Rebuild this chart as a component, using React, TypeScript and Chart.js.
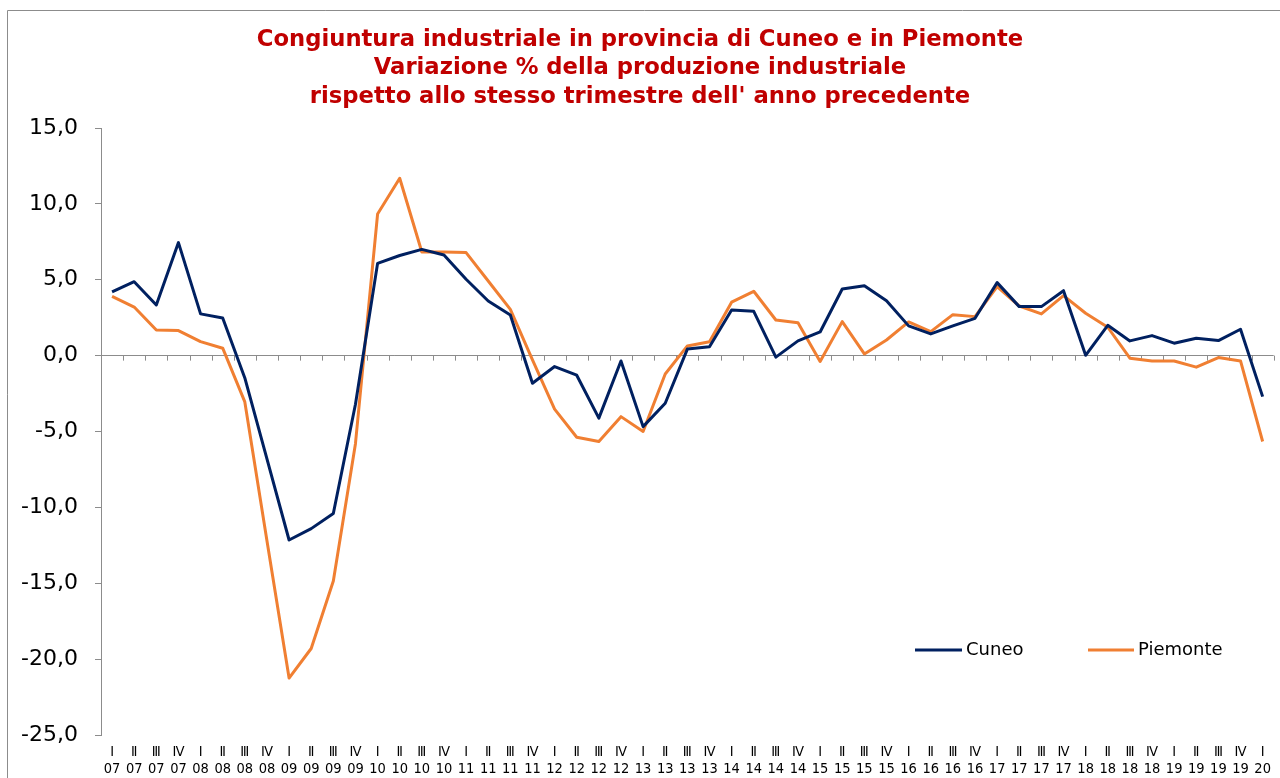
import React, { useEffect, useRef } from "react";
import { Chart, registerables } from "chart.js";

Chart.register(...registerables);

const quarterLabels = ["Ⅰ", "Ⅱ", "Ⅲ", "Ⅳ"];
const yearLabels = ["07", "08", "09", "10", "11", "12", "13", "14", "15", "16", "17", "18", "19", "20"];
const pointCount = 53;

const cuneo = [
  4.2, 4.87, 3.34, 7.45, 2.75, 2.48, -1.47, -6.8, -12.15, -11.4, -10.4, -3.2, 6.08, 6.6, 7.0, 6.63,
  5.03, 3.6, 2.68, -1.82, -0.72, -1.29, -4.12, -0.35, -4.68, -3.14, 0.43, 0.59, 3.01, 2.92, -0.1, 0.97,
  1.56, 4.39, 4.61, 3.62, 1.96, 1.43, 1.96, 2.46, 4.81, 3.23, 3.23, 4.28, 0.02, 2.0, 0.97, 1.32,
  0.82, 1.15, 0.99, 1.74, -2.7,
];

const piemonte = [
  3.9, 3.2, 1.69, 1.65, 0.92, 0.49, -3.05, -12.2, -21.25, -19.3, -14.85, -5.8, 9.33, 11.69, 6.83, 6.83,
  6.79, 4.92, 3.05, -0.28, -3.53, -5.38, -5.66, -4.02, -5.0, -1.21, 0.64, 0.92, 3.52, 4.24, 2.35, 2.17,
  -0.39, 2.24, 0.11, 1.03, 2.22, 1.58, 2.7, 2.57, 4.55, 3.27, 2.75, 3.95, 2.79, 1.87, -0.17, -0.35,
  -0.35, -0.76, -0.13, -0.35, -5.66,
];

const titleLines = [
  "Congiuntura industriale in provincia di Cuneo e in Piemonte",
  "Variazione % della produzione industriale",
  "rispetto allo stesso trimestre dell' anno precedente",
];

const seriesNames = ["Cuneo", "Piemonte"];
const seriesColors = ["#002060", "#F07F32"];

const categories: string[][] = [];
for (let i = 0; i < pointCount; i++) {
  categories.push([quarterLabels[i % 4], yearLabels[Math.floor(i / 4)]]);
}

const FONT = "'DejaVu Sans', Verdana, sans-serif";
const COND = "'DejaVu Sans Condensed', 'DejaVu Sans', sans-serif";

const decorPlugin = {
  id: "decor",
  beforeDatasetsDraw(chart: any) {
    const ctx = chart.ctx;
    const x = chart.scales.x;
    const y = chart.scales.y;
    const y0 = y.getPixelForValue(0);
    ctx.save();
    ctx.strokeStyle = "#8c8c8c";
    ctx.lineWidth = 1;
    const w = (x.right - x.left) / pointCount;
    ctx.beginPath();
    for (let i = 1; i <= pointCount; i++) {
      const px = Math.round(x.left + i * w) + 0.5;
      ctx.moveTo(px, y0);
      ctx.lineTo(px, y0 + 5);
    }
    ctx.stroke();
    ctx.restore();
  },
  afterDraw(chart: any) {
    const ctx = chart.ctx;
    ctx.save();
    // frame
    ctx.strokeStyle = "#8c8c8c";
    ctx.lineWidth = 1;
    ctx.beginPath();
    ctx.moveTo(7.5, 780);
    ctx.lineTo(7.5, 10.5);
    ctx.lineTo(1282, 10.5);
    ctx.stroke();
    // title
    ctx.fillStyle = "#C00000";
    ctx.font = "bold 22.7px " + FONT;
    ctx.textAlign = "center";
    ctx.textBaseline = "middle";
    titleLines.forEach((t, i) => ctx.fillText(t, 640, 40 + i * 28.5));
    // legend
    const items = [
      { x0: 915, x1: 962, tx: 966 },
      { x0: 1088, x1: 1134, tx: 1138 },
    ];
    ctx.font = "18px " + FONT;
    ctx.textAlign = "left";
    items.forEach((it, i) => {
      ctx.strokeStyle = seriesColors[i];
      ctx.lineWidth = 3;
      ctx.beginPath();
      ctx.moveTo(it.x0, 650);
      ctx.lineTo(it.x1, 650);
      ctx.stroke();
      ctx.fillStyle = "#000";
      ctx.fillText(seriesNames[i], it.tx, 650);
    });
    ctx.restore();
  },
};

export default function App() {
  const ref = useRef<HTMLCanvasElement | null>(null);
  useEffect(() => {
    if (!ref.current) return;
    const chart = new Chart(ref.current, {
      type: "line",
      data: {
        labels: categories,
        datasets: [
          {
            label: seriesNames[0],
            data: cuneo,
            borderColor: seriesColors[0],
            backgroundColor: seriesColors[0],
            borderWidth: 3,
            pointRadius: 0,
            tension: 0,
            borderJoinStyle: "round",
          },
          {
            label: seriesNames[1],
            data: piemonte,
            borderColor: seriesColors[1],
            backgroundColor: seriesColors[1],
            borderWidth: 3,
            pointRadius: 0,
            tension: 0,
            borderJoinStyle: "round",
          },
        ],
      },
      options: {
        animation: false,
        responsive: false,
        maintainAspectRatio: false,
        layout: { padding: { top: 128, right: 6, left: 0, bottom: 0 } },
        plugins: {
          legend: { display: false },
          title: { display: false },
          tooltip: { enabled: false },
        },
        scales: {
          x: {
            type: "category",
            offset: true,
            grid: { display: false, drawTicks: false },
            border: { display: false },
            ticks: {
              autoSkip: false,
              maxRotation: 0,
              minRotation: 0,
              padding: 9,
              color: "#000",
              font: { family: COND, size: 14.5, lineHeight: 1.14 },
            },
            afterFit: (s: any) => {
              s.height = 43;
            },
          },
          y: {
            min: -25,
            max: 15,
            ticks: {
              stepSize: 5,
              padding: 17,
              color: "#000",
              font: { family: FONT, size: 22 },
              callback: (v: any) => Number(v).toFixed(1).replace(".", ","),
            },
            grid: {
              color: (c: any) => (c.tick && c.tick.value === 0 ? "#8c8c8c" : "rgba(0,0,0,0)"),
              tickColor: "#8c8c8c",
              tickLength: 6,
              lineWidth: 1,
            },
            border: { display: true, color: "#8c8c8c", width: 1 },
            afterFit: (s: any) => {
              s.width = 101;
            },
          },
        },
      },
      plugins: [decorPlugin],
    });
    return () => chart.destroy();
  }, []);
  return (
    <div style={{ position: "fixed", left: 0, top: 0, width: 1280, height: 778, background: "#fff" }}>
      <canvas ref={ref} width={1280} height={778} style={{ width: 1280, height: 778, display: "block" }} />
    </div>
  );
}
